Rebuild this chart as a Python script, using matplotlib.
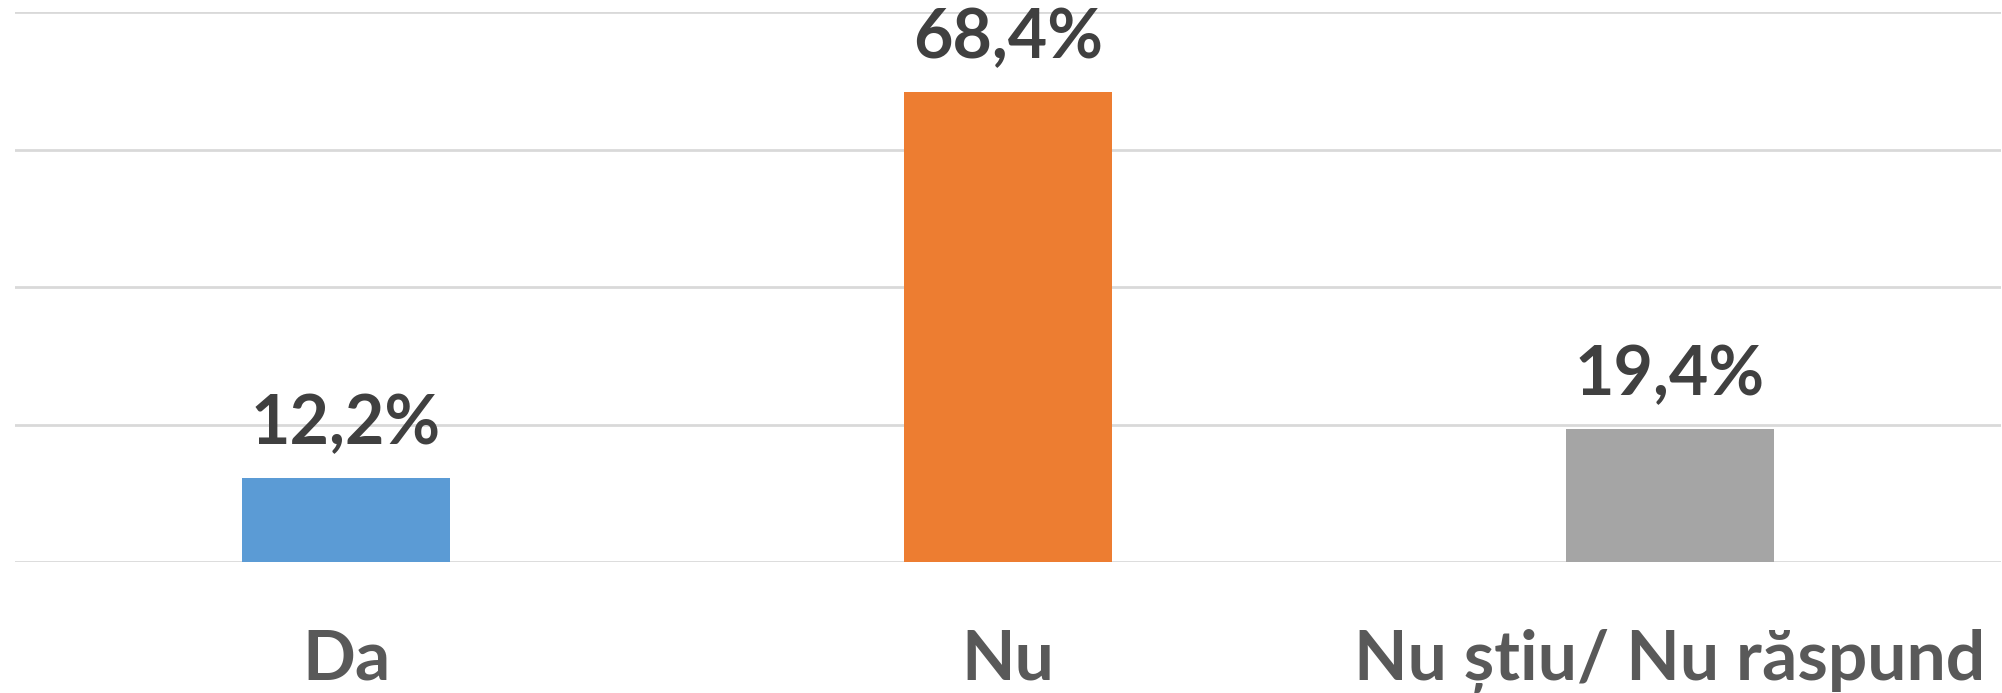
import numpy as np
import matplotlib.pyplot as plt

categories = ['Da', 'Nu', 'Nu știu/ Nu răspund']
values = [12.2, 68.4, 19.4]
labels = ['12,2%', '68,4%', '19,4%']
colors = ['#5b9bd5', '#ed7d31', '#a5a5a5']

plt.rcParams['font.family'] = ['Lato', 'DejaVu Sans']

fig = plt.figure(figsize=(20.02, 6.93), dpi=100)
ax = fig.add_axes([15 / 2002, 1 - 562 / 693, 1986 / 2002, (562 - 12) / 693])

x = np.arange(len(categories))
bars = ax.bar(x, values, width=0.314, color=colors, zorder=3)

for b, lab in zip(bars, labels):
    ax.annotate(lab, (b.get_x() + b.get_width() / 2, b.get_height()),
                xytext=(0, 22), textcoords='offset pixels',
                ha='center', va='bottom', fontsize=49, fontweight='bold',
                color='#404040')

ax.set_xlim(-0.5, 2.5)
ax.set_ylim(0, 80)
ax.set_yticks([0, 20, 40, 60, 80])
ax.yaxis.grid(True, color='#d9d9d9', linewidth=2, zorder=0)
ax.tick_params(axis='y', left=False, labelleft=False)
ax.set_xticks(x)
ax.set_xticklabels(categories, fontsize=50, fontweight='bold', color='#595959')
ax.tick_params(axis='x', length=0, pad=48)
for s in ax.spines.values():
    s.set_visible(False)

fig.savefig('out.png', dpi=100)
